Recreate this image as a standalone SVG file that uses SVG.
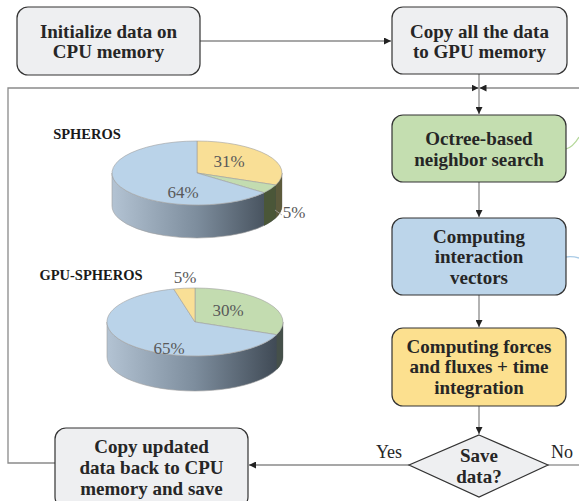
<svg xmlns="http://www.w3.org/2000/svg" width="579" height="501" viewBox="0 0 579 501">
<style>
.box{stroke:#333;stroke-width:1.2}
.t{font-family:"Liberation Serif",serif;font-weight:bold;font-size:19px;fill:#262626;text-anchor:middle}
.lbl{font-family:"Liberation Serif",serif;font-size:18px;fill:#262626;text-anchor:middle}
.pt{font-family:"Liberation Serif",serif;font-weight:bold;font-size:14.5px;fill:#1a1a1a;text-anchor:middle}
.pl{font-family:"Liberation Serif",serif;font-size:17px;fill:#595959;text-anchor:middle}
.c{fill:none;stroke:#8a8a8a;stroke-width:1.3}
.ps{stroke:#a0a0a0;stroke-width:0.6}
</style>
<defs>
<marker id="ah" viewBox="0 0 10 10" refX="10" refY="5" markerWidth="7" markerHeight="7" orient="auto" markerUnits="userSpaceOnUse">
<path d="M0,0 L10,5 L0,10 Z" fill="#222"/>
</marker>
<linearGradient id="side" x1="0" y1="0" x2="1" y2="0">
<stop offset="0" stop-color="#b3c3d3"/>
<stop offset="0.5" stop-color="#7d8d9d"/>
<stop offset="1" stop-color="#3b4550"/>
</linearGradient>
</defs>
<rect width="579" height="501" fill="#fff"/>

<g id="connectors">
<path class="c" d="M200,41 H391" marker-end="url(#ah)"/>
<path class="c" d="M479,74 V114" marker-end="url(#ah)"/>
<path class="c" d="M55,463 H8 V88 H478.5" marker-end="url(#ah)"/>
<path class="c" d="M579,88 H479.5" marker-end="url(#ah)"/>
<path class="c" d="M479,182 V217" marker-end="url(#ah)"/>
<path class="c" d="M479,295 V327" marker-end="url(#ah)"/>
<path class="c" d="M479,406 V434" marker-end="url(#ah)"/>
<path class="c" d="M409,465 H249" marker-end="url(#ah)"/>
<path class="c" d="M548,465 H579"/>
<text class="lbl" x="389" y="458">Yes</text>
<text class="lbl" x="562" y="458">No</text>
</g>

<g id="curves">
<path d="M566,149 Q573,147 579,137" fill="none" stroke="#b5d89a" stroke-width="1.3"/>
<path d="M566,257 Q572,256 579,258" fill="none" stroke="#a9cbe6" stroke-width="1.3"/>
</g>

<g id="n1">
<rect class="box" x="17" y="7" width="183" height="68" rx="11" fill="#eeeff1"/>
<text class="t" x="108.5" y="38">Initialize data on</text>
<text class="t" x="108.5" y="58">CPU memory</text>
</g>
<g id="n2">
<rect class="box" x="392" y="7" width="175" height="67" rx="11" fill="#eeeff1"/>
<text class="t" x="479.5" y="38">Copy all the data</text>
<text class="t" x="479.5" y="58">to GPU memory</text>
</g>
<g id="n3">
<rect class="box" x="392" y="115" width="174" height="67" rx="11" fill="#c4deb0"/>
<text class="t" x="479" y="145">Octree-based</text>
<text class="t" x="479" y="166">neighbor search</text>
</g>
<g id="n4">
<rect class="box" x="392" y="218" width="174" height="77" rx="11" fill="#bcd5ea"/>
<text class="t" x="479" y="243">Computing</text>
<text class="t" x="479" y="263">interaction</text>
<text class="t" x="479" y="284">vectors</text>
</g>
<g id="n5">
<rect class="box" x="392" y="328" width="174" height="78" rx="11" fill="#fce08f"/>
<text class="t" x="479" y="353">Computing forces</text>
<text class="t" x="479" y="373">and fluxes + time</text>
<text class="t" x="479" y="394">integration</text>
</g>
<g id="n6">
<path class="box" d="M479,435 L548,465 L479,497 L409,465 Z" fill="#eeeff1"/>
<text class="t" x="479" y="462">Save</text>
<text class="t" x="479" y="483">data?</text>
</g>
<g id="n7">
<rect class="box" x="55" y="428" width="193" height="80" rx="11" fill="#eeeff1"/>
<text class="t" x="151.5" y="453">Copy updated</text>
<text class="t" x="151.5" y="474">data back to CPU</text>
<text class="t" x="151.5" y="495">memory and save</text>
</g>

<g id="pie1">
<text class="pt" x="87" y="139">SPHEROS</text>
<path class="ps" d="M282,173 L282,206 A85,32 0 0 1 112,206 L112,173 A85,32 0 0 0 282,173 Z" fill="url(#side)"/>
<path d="M282,173 L282,206 A85,32 0 0 1 275.8,218 L275.8,185 A85,32 0 0 0 282,173 Z" fill="#5c5a3c"/>
<path d="M275.8,185 L275.8,218 A85,32 0 0 1 264,225.7 L264,192.7 A85,32 0 0 0 275.8,185 Z" fill="#4a5638"/>
<path class="ps" d="M197,173 L197,141 A85,32 0 0 1 275.8,185 Z" fill="#f9df96"/>
<path class="ps" d="M197,173 L275.8,185 A85,32 0 0 1 264,192.7 Z" fill="#c3dcb0"/>
<path class="ps" d="M197,173 L264,192.7 A85,32 0 1 1 197,141 Z" fill="#bad3e9"/>
<text class="pl" x="229" y="167">31%</text>
<text class="pl" x="183" y="198">64%</text>
<path d="M275,210 L282,215" stroke="#aaa" stroke-width="0.8" fill="none"/>
<text class="pl" x="294" y="218">5%</text>
</g>

<g id="pie2">
<text class="pt" x="91" y="280">GPU-SPHEROS</text>
<path class="ps" d="M283,322 L283,357 A88,34 0 0 1 107,357 L107,322 A88,34 0 0 0 283,322 Z" fill="url(#side)"/>
<path d="M283,322 L283,357 A88,34 0 0 1 276.6,369.7 L276.6,334.7 A88,34 0 0 0 283,322 Z" fill="#45504a"/>
<path class="ps" d="M195,322 L195,288 A88,34 0 0 1 276.6,334.7 Z" fill="#c3dcb0"/>
<path class="ps" d="M195,322 L276.6,334.7 A88,34 0 1 1 173.7,289 Z" fill="#bad3e9"/>
<path class="ps" d="M195,322 L173.7,289 A88,34 0 0 1 195,288 Z" fill="#f9df96"/>
<text class="pl" x="185" y="283">5%</text>
<text class="pl" x="228" y="316">30%</text>
<text class="pl" x="169" y="354">65%</text>
</g>
</svg>
